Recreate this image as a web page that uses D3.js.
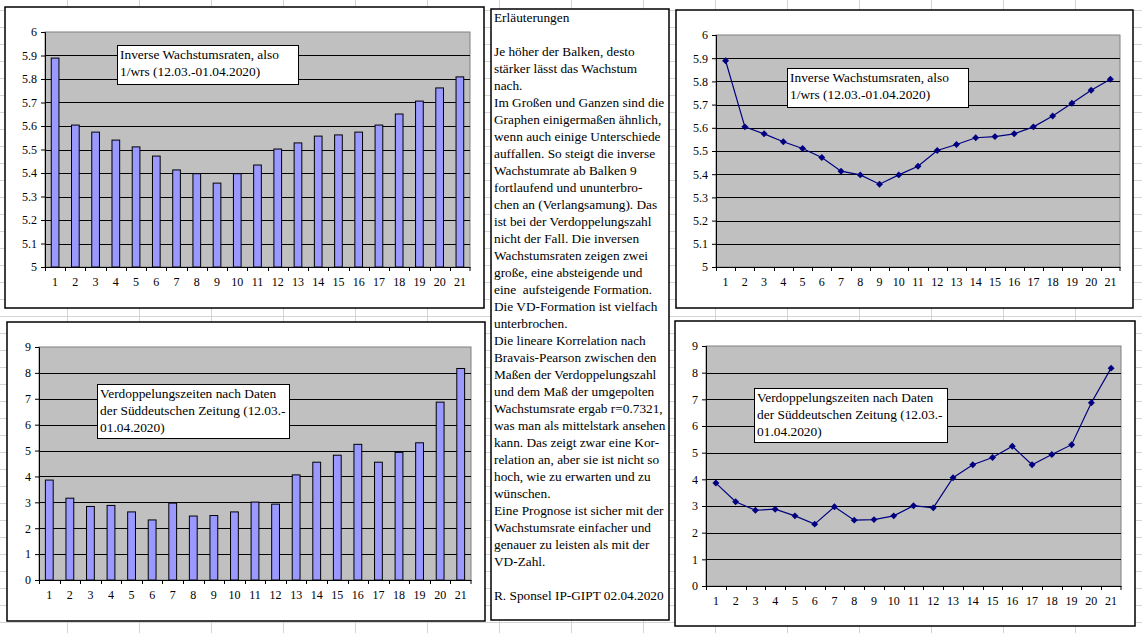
<!DOCTYPE html>
<html>
<head>
<meta charset="utf-8">
<script src="https://cdn.jsdelivr.net/npm/d3@7"></script>
<style>
  body { margin: 0; background: #fff; }
  svg { display: block; font-family: "Liberation Serif", "Times New Roman", serif; }
</style>
</head>
<body>
<div id="sheet"></div>
<script>
// Tagesnummern 12.03.-01.04.2020
var categories = ["1","2","3","4","5","6","7","8","9","10","11","12","13","14","15","16","17","18","19","20","21"];

// inverse Wachstumsraten (1/wrs)
var inverseRates = [5.889, 5.604, 5.574, 5.540, 5.511, 5.472, 5.413, 5.397, 5.357, 5.397, 5.434,
                    5.502, 5.528, 5.557, 5.562, 5.574, 5.604, 5.651, 5.706, 5.762, 5.809];

// Verdoppelungszeiten (SZ)
var doublingTimes = [3.86, 3.16, 2.84, 2.88, 2.63, 2.32, 2.97, 2.47, 2.49, 2.63, 3.01,
                     2.93, 4.06, 4.55, 4.82, 5.24, 4.55, 4.93, 5.30, 6.87, 8.17];

var rateTicks = [5, 5.1, 5.2, 5.3, 5.4, 5.5, 5.6, 5.7, 5.8, 5.9, 6];
var doublingTicks = [0, 1, 2, 3, 4, 5, 6, 7, 8, 9];

var rateNote = ["Inverse Wachstumsraten, also", "1/wrs (12.03.-01.04.2020)"];
var doublingNote = ["Verdoppelungszeiten nach Daten", "der Süddeutschen Zeitung (12.03.-", "01.04.2020)"];

var explanation = [
  "Erläuterungen",
  "",
  "Je höher der Balken, desto",
  "stärker lässt das Wachstum",
  "nach.",
  "Im Großen und Ganzen sind die",
  "Graphen einigermaßen ähnlich,",
  "wenn auch einige Unterschiede",
  "auffallen. So steigt die inverse",
  "Wachstumrate ab Balken 9",
  "fortlaufend und ununterbro-",
  "chen an (Verlangsamung). Das",
  "ist bei der Verdoppelungszahl",
  "nicht der Fall. Die inversen",
  "Wachstumsraten zeigen zwei",
  "große, eine absteigende und",
  "eine  aufsteigende Formation.",
  "Die VD-Formation ist vielfach",
  "unterbrochen.",
  "Die lineare Korrelation nach",
  "Bravais-Pearson zwischen den",
  "Maßen der Verdoppelungszahl",
  "und dem Maß der umgepolten",
  "Wachstumsrate ergab r=0.7321,",
  "was man als mittelstark ansehen",
  "kann. Das zeigt zwar eine Kor-",
  "relation an, aber sie ist nicht so",
  "hoch, wie zu erwarten und zu",
  "wünschen.",
  "Eine Prognose ist sicher mit der",
  "Wachstumsrate einfacher und",
  "genauer zu leisten als mit der",
  "VD-Zahl.",
  "",
  "R. Sponsel IP-GIPT 02.04.2020"
];

var W = 1142, H = 633;
var svg = d3.select("#sheet").append("svg").attr("width", W).attr("height", H);

// Tabellenraster im Hintergrund
var grid = svg.append("g").attr("stroke", "#d4d4d4").attr("stroke-width", 1);
d3.range(67, W, 72).forEach(function(x) {
  grid.append("line").attr("x1", x + 0.5).attr("x2", x + 0.5).attr("y1", 0).attr("y2", H);
});
d3.range(9.5, H, 17).forEach(function(y) {
  grid.append("line").attr("x1", 0).attr("x2", W).attr("y1", Math.round(y) + 0.5).attr("y2", Math.round(y) + 0.5);
});

function drawChart(cfg) {
  var g = svg.append("g");
  var p = cfg.plot;

  g.append("rect").attr("x", cfg.box.x).attr("y", cfg.box.y).attr("width", cfg.box.w).attr("height", cfg.box.h)
    .attr("fill", "#fff").attr("stroke", "#000").attr("stroke-width", 1.5);

  var x = d3.scaleBand().domain(categories).range([p.x, p.x + p.w]).padding(0);
  var y = d3.scaleLinear().domain(d3.extent(cfg.ticks)).range([p.y + p.h, p.y]);

  g.append("rect").attr("x", p.x).attr("y", p.y).attr("width", p.w).attr("height", p.h)
    .attr("fill", "#c0c0c0").attr("stroke", "#808080").attr("stroke-width", 1);

  // Gitternetzlinien
  g.append("g").selectAll("line").data(cfg.ticks.slice(1, -1)).join("line")
    .attr("x1", p.x).attr("x2", p.x + p.w)
    .attr("y1", function(d) { return Math.round(y(d)) + 0.5; })
    .attr("y2", function(d) { return Math.round(y(d)) + 0.5; })
    .attr("stroke", "#000").attr("stroke-width", 1);

  if (cfg.type === "bar") {
    var bw = x.bandwidth() * 0.38;
    g.append("g").selectAll("rect").data(cfg.values).join("rect")
      .attr("x", function(d, i) { return x(categories[i]) + (x.bandwidth() - bw) / 2; })
      .attr("y", function(d) { return y(d); })
      .attr("width", bw)
      .attr("height", function(d) { return y(cfg.ticks[0]) - y(d); })
      .attr("fill", "#9999ff").attr("stroke", "#000").attr("stroke-width", 1);
  } else {
    var line = d3.line()
      .x(function(d, i) { return x(categories[i]) + x.bandwidth() / 2; })
      .y(function(d) { return y(d); });
    g.append("path").datum(cfg.values).attr("d", line)
      .attr("fill", "none").attr("stroke", "#000080").attr("stroke-width", 1.2);
    g.append("g").selectAll("path").data(cfg.values).join("path")
      .attr("d", d3.symbol(d3.symbolSquare, 24))
      .attr("transform", function(d, i) {
        return "translate(" + (x(categories[i]) + x.bandwidth() / 2) + "," + y(d) + ") rotate(45)";
      })
      .attr("fill", "#000080");
  }

  // y-Achse
  var yAxis = g.append("g").attr("transform", "translate(" + p.x + ",0)")
    .call(d3.axisLeft(y).tickValues(cfg.ticks).tickSize(4).tickPadding(4).tickFormat(d3.format("")));
  yAxis.select(".domain").attr("stroke", "#000");
  yAxis.selectAll("text").attr("font-size", 12).attr("fill", "#000").attr("font-family", "Liberation Serif");

  // x-Achse: Teilstriche zwischen den Kategorien
  var xAxis = g.append("g").attr("transform", "translate(0," + (p.y + p.h) + ")")
    .call(d3.axisBottom(x).tickSize(0).tickPadding(10));
  xAxis.select(".domain").attr("stroke", "#000");
  xAxis.selectAll("text").attr("font-size", 12).attr("fill", "#000").attr("font-family", "Liberation Serif");
  xAxis.append("g").selectAll("line").data(categories.concat(["end"])).join("line")
    .attr("x1", function(d) { return d === "end" ? p.x + p.w : Math.round(x(d)) + 0.5; })
    .attr("x2", function(d) { return d === "end" ? p.x + p.w : Math.round(x(d)) + 0.5; })
    .attr("y1", 0).attr("y2", 4).attr("stroke", "#000");

  // Beschriftungskasten
  var n = cfg.note;
  g.append("rect").attr("x", n.x + 0.5).attr("y", n.y + 0.5).attr("width", n.w).attr("height", n.h)
    .attr("fill", "#fff").attr("stroke", "#000").attr("stroke-width", 1);
  g.append("g").selectAll("text").data(cfg.noteLines).join("text")
    .attr("x", n.x + 3).attr("y", function(d, i) { return n.y + 14 + i * 17; })
    .attr("font-size", 13.4).attr("fill", "#000").text(function(d) { return d; });
}

drawChart({ type: "bar", values: inverseRates, ticks: rateTicks, noteLines: rateNote,
  box: {x: 5, y: 7, w: 479, h: 301}, plot: {x: 45, y: 32, w: 425, h: 235},
  note: {x: 117, y: 45, w: 181, h: 39} });
drawChart({ type: "bar", values: doublingTimes, ticks: doublingTicks, noteLines: doublingNote,
  box: {x: 7, y: 322, w: 478, h: 299}, plot: {x: 39, y: 347, w: 432, h: 233},
  note: {x: 97, y: 384, w: 192, h: 54} });
drawChart({ type: "line", values: inverseRates, ticks: rateTicks, noteLines: rateNote,
  box: {x: 676, y: 10, w: 457, h: 298}, plot: {x: 716, y: 35, w: 404, h: 232},
  note: {x: 787, y: 68, w: 181, h: 39} });
drawChart({ type: "line", values: doublingTimes, ticks: doublingTicks, noteLines: doublingNote,
  box: {x: 675, y: 321, w: 460, h: 305}, plot: {x: 706, y: 346, w: 415, h: 240},
  note: {x: 754, y: 388, w: 193, h: 54} });

// Erläuterungstext
var panel = svg.append("g");
panel.append("rect").attr("x", 491).attr("y", 9).attr("width", 178).attr("height", 611)
  .attr("fill", "#fff").attr("stroke", "#000").attr("stroke-width", 1.5);
panel.selectAll("text").data(explanation).join("text")
  .attr("x", 494).attr("y", function(d, i) { return 22 + i * 17; })
  .attr("font-size", 13.3).attr("fill", "#000")
  .attr("xml:space", "preserve").style("white-space", "pre")
  .text(function(d) { return d; });
</script>
</body>
</html>
